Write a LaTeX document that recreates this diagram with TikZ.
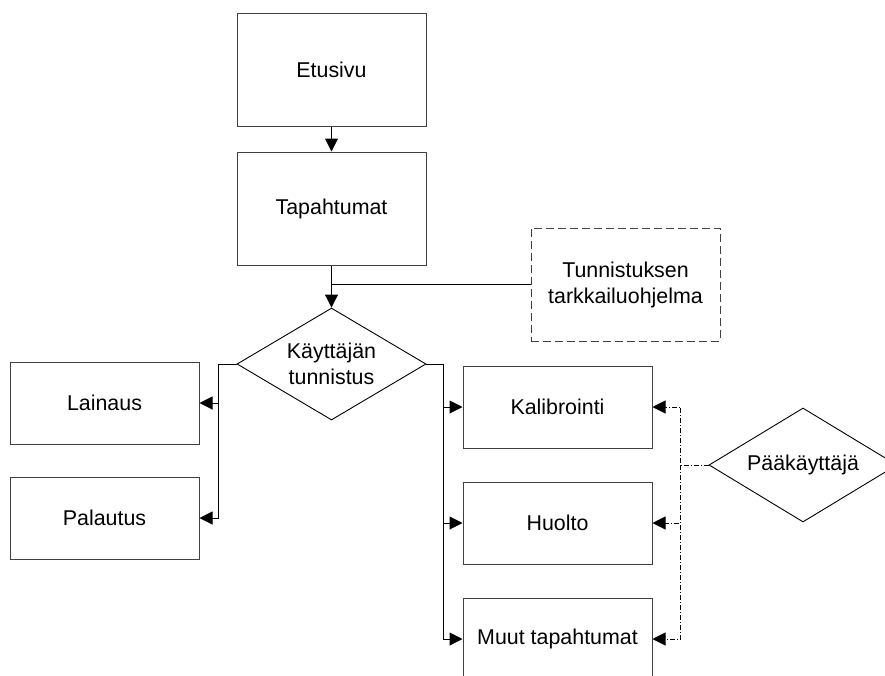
\documentclass[tikz,border=0pt]{standalone}
\usepackage{fontspec}
\setmainfont{Liberation Sans}
\usetikzlibrary{shapes.geometric,arrows.meta}
\begin{document}
\begin{tikzpicture}[x=1pt,y=-1pt,
  font=\fontsize{21.4}{26}\selectfont,
  box/.style={draw=black!75,line width=1pt,rectangle,minimum width=189pt,minimum height=82pt,inner sep=0pt,align=center},
  tallbox/.style={box,minimum height=113pt},
  decision/.style={draw=black,line width=0.9pt,diamond,shape aspect=1.65,inner sep=0pt,align=center},
  link/.style={draw=black,line width=1pt,-{Triangle[length=13pt,width=13pt]}},
  plain/.style={draw=black,line width=1pt},
  admin/.style={draw=black,line width=0.9pt,dash pattern=on 5pt off 2pt on 1pt off 2pt,-{Triangle[length=13pt,width=13pt]}}]
\clip (0,0) rectangle (885,675);
\fill[white] (0,0) rectangle (885,675);

% main flow
\node[tallbox] (etusivu) at (331.5,69.5) {Etusivu};
\node[tallbox] (tapahtumat) at (331.5,208.5) {Tapahtumat};
\node[tallbox,dash pattern=on 8pt off 4pt] (monitor) at (625.5,284.5) {Tunnistuksen\\tarkkailuohjelma};
\node[decision,minimum width=189pt,minimum height=112pt] (tunnistus) at (331.5,364) {Käyttäjän\\tunnistus};

% left branch
\node[box] (lainaus) at (104.5,403) {Lainaus};
\node[box] (palautus) at (104.5,518) {Palautus};

% right branch
\node[box] (kalibrointi) at (557.5,407) {Kalibrointi};
\node[box] (huolto) at (557.5,523) {Huolto};
\node[box] (muut) at (557.5,639) {Muut tapahtumat};

% administrator
\node[decision,minimum width=188pt,minimum height=114pt] (paak) at (803,465) {Pääkäyttäjä};

% connectors
\draw[link] (etusivu.south) -- (tapahtumat.north);
\draw[link] (tapahtumat.south) -- (tunnistus.north);
\draw[plain] (monitor.west) -- (monitor.west -| tapahtumat.south);

\coordinate (lsplit) at ([xshift=-18pt]tunnistus.west);
\draw[link] (tunnistus.west) -- (lsplit) |- (lainaus.east);
\draw[link] (lsplit) |- (palautus.east);

\coordinate (rsplit) at ([xshift=17pt]tunnistus.east);
\draw[link] (tunnistus.east) -- (rsplit) |- (kalibrointi.west);
\draw[link] (rsplit) |- (huolto.west);
\draw[link] (rsplit) |- (muut.west);

\coordinate (asplit) at ([xshift=-28pt]paak.west);
\draw[admin] (paak.west) -- (asplit) |- (kalibrointi.east);
\draw[admin] (asplit) |- (huolto.east);
\draw[admin] (asplit) |- (muut.east);
\end{tikzpicture}
\end{document}
